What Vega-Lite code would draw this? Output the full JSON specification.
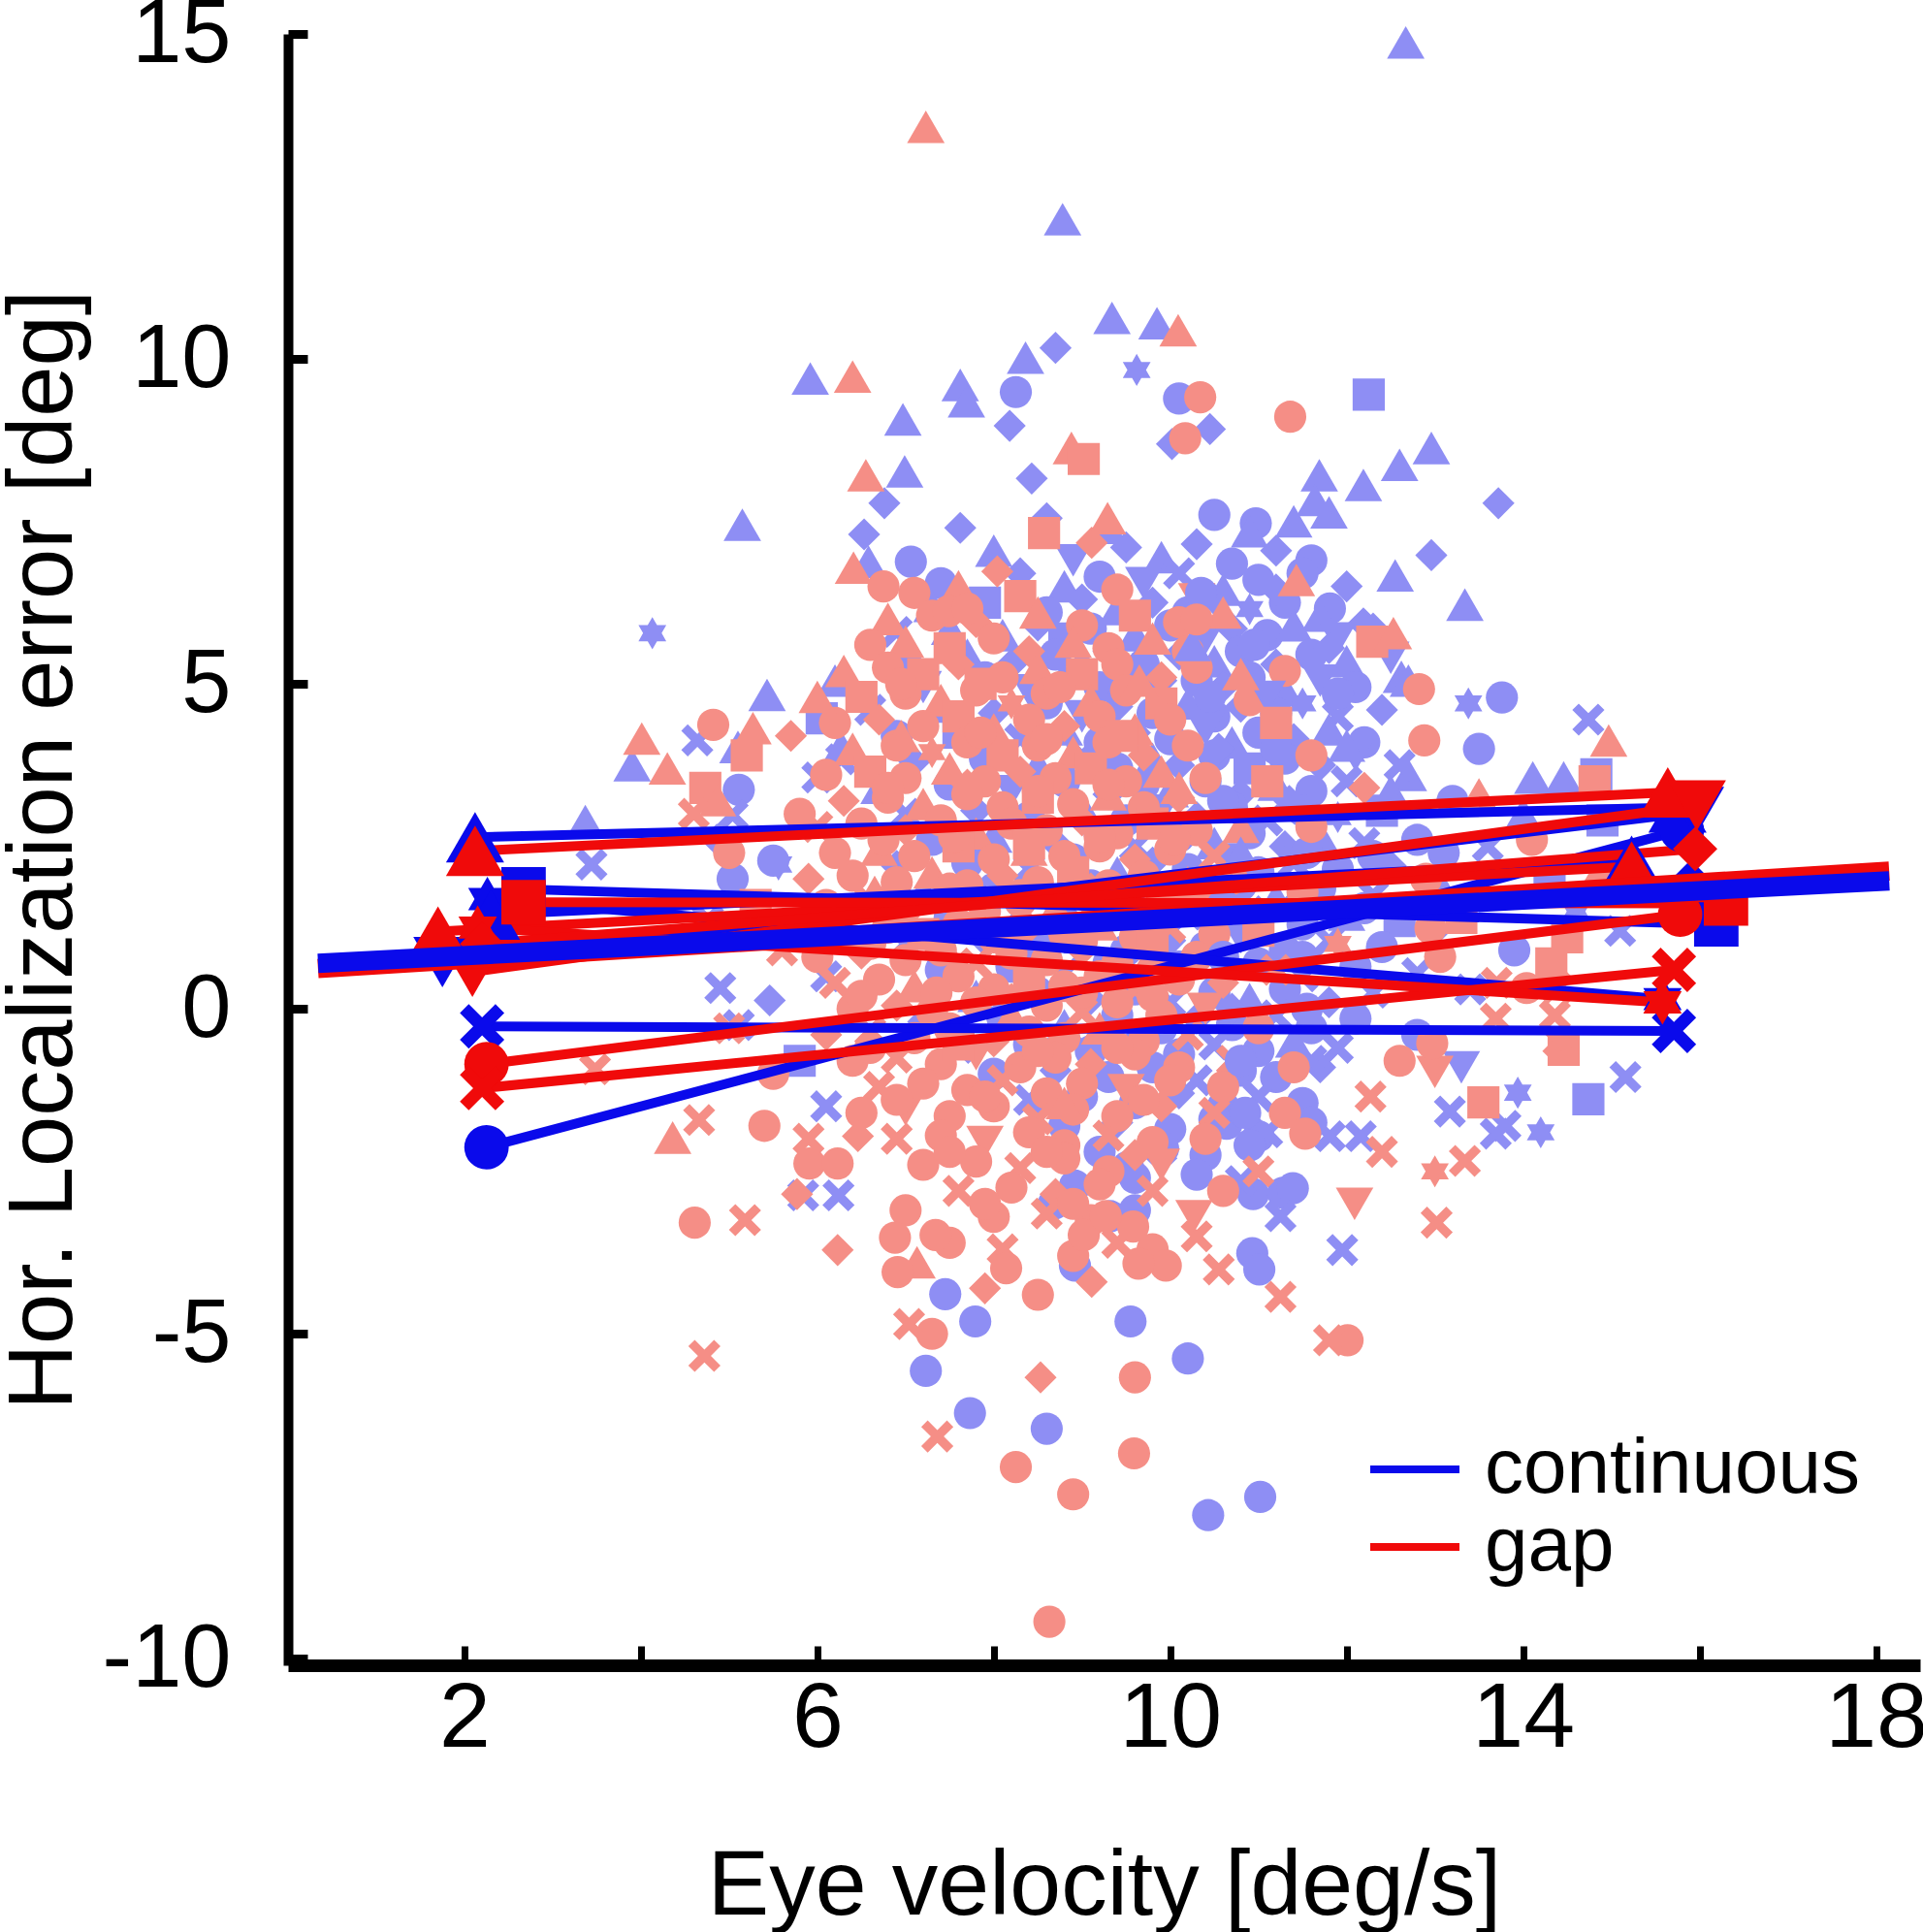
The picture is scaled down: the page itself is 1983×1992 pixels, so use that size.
{
"$schema": "https://vega.github.io/schema/vega-lite/v6.json",
"width": 1683, "height": 1682,
"autosize": {"type": "none"},
"padding": {"left": 297, "top": 35, "right": 3, "bottom": 275},
"background": "white",
"config": {"view": {"stroke": null}, "font": "Liberation Sans"},
"datasets": {
"scatter": [
{"x":12.67,"y":14.87,"c":"b","s":"u"},{"x":8.78,"y":12.15,"c":"b","s":"u"},{"x":9.34,"y":10.63,"c":"b","s":"u"},{"x":9.85,"y":10.55,"c":"b","s":"u"},{"x":8.70,"y":10.17,"c":"b","s":"m"},{"x":8.36,"y":10.02,"c":"b","s":"u"},{"x":5.92,"y":9.70,"c":"b","s":"u"},{"x":7.62,"y":9.60,"c":"b","s":"u"},{"x":7.69,"y":9.35,"c":"b","s":"u"},{"x":8.25,"y":9.49,"c":"b","s":"o"},{"x":6.97,"y":9.07,"c":"b","s":"u"},{"x":8.18,"y":8.97,"c":"b","s":"m"},{"x":10.10,"y":9.39,"c":"b","s":"o"},{"x":9.62,"y":9.83,"c":"b","s":"h"},{"x":12.25,"y":9.45,"c":"b","s":"s"},{"x":10.02,"y":8.69,"c":"b","s":"m"},{"x":10.45,"y":8.92,"c":"b","s":"m"},{"x":12.96,"y":8.63,"c":"b","s":"u"},{"x":12.60,"y":8.37,"c":"b","s":"u"},{"x":12.19,"y":8.06,"c":"b","s":"u"},{"x":11.69,"y":8.21,"c":"b","s":"u"},{"x":6.99,"y":8.27,"c":"b","s":"u"},{"x":8.43,"y":8.16,"c":"b","s":"m"},{"x":5.15,"y":7.45,"c":"b","s":"u"},{"x":13.72,"y":7.78,"c":"b","s":"m"},{"x":11.80,"y":7.64,"c":"b","s":"u"},{"x":11.64,"y":7.83,"c":"b","s":"u"},{"x":10.97,"y":7.47,"c":"b","s":"o"},{"x":7.62,"y":7.40,"c":"b","s":"m"},{"x":6.76,"y":7.78,"c":"b","s":"m"},{"x":6.53,"y":7.30,"c":"b","s":"m"},{"x":6.58,"y":6.88,"c":"b","s":"u"},{"x":7.06,"y":6.88,"c":"b","s":"o"},{"x":12.96,"y":6.98,"c":"b","s":"m"},{"x":12.55,"y":6.67,"c":"b","s":"u"},{"x":13.34,"y":6.22,"c":"b","s":"u"},{"x":11.81,"y":6.16,"c":"b","s":"o"},{"x":12.19,"y":5.93,"c":"b","s":"m"},{"x":13.76,"y":4.79,"c":"b","s":"o"},{"x":12.62,"y":5.11,"c":"b","s":"u"},{"x":5.43,"y":4.83,"c":"b","s":"u"},{"x":4.13,"y":5.78,"c":"b","s":"h"},{"x":13.38,"y":4.70,"c":"b","s":"h"},{"x":14.74,"y":4.45,"c":"b","s":"x"},{"x":14.11,"y":3.56,"c":"b","s":"u"},{"x":14.46,"y":3.56,"c":"b","s":"u"},{"x":14.83,"y":3.61,"c":"b","s":"s"},
{"x":10.43,"y":-7.79,"c":"b","s":"o"},{"x":11.02,"y":-7.51,"c":"b","s":"o"},{"x":8.6,"y":-6.46,"c":"b","s":"o"},{"x":7.73,"y":-6.22,"c":"b","s":"o"},{"x":7.23,"y":-5.57,"c":"b","s":"o"},{"x":10.2,"y":-5.38,"c":"b","s":"o"},{"x":9.55,"y":-4.81,"c":"b","s":"o"},{"x":7.79,"y":-4.81,"c":"b","s":"o"},{"x":7.45,"y":-4.39,"c":"b","s":"o"},{"x":8.92,"y":-3.95,"c":"b","s":"o"},{"x":9.32,"y":-3.19,"c":"b","s":"o"},{"x":8.68,"y":-3.0,"c":"b","s":"o"},{"x":10.93,"y":-3.76,"c":"b","s":"o"},{"x":11.01,"y":-4.01,"c":"b","s":"o"},{"x":10.94,"y":-2.85,"c":"b","s":"o"},{"x":11.0,"y":-1.96,"c":"b","s":"o"},{"x":10.64,"y":-1.77,"c":"b","s":"o"},{"x":11.28,"y":-2.83,"c":"b","s":"o"},{"x":11.39,"y":-2.76,"c":"b","s":"o"},{"x":11.95,"y":-3.71,"c":"b","s":"x"},{"x":11.81,"y":-1.96,"c":"b","s":"x"},{"x":11.25,"y":-3.19,"c":"b","s":"x"},{"x":9.52,"y":-2.43,"c":"b","s":"o"},{"x":9.92,"y":-2.15,"c":"b","s":"o"},{"x":6.24,"y":-2.87,"c":"b","s":"x"},{"x":15.16,"y":-1.05,"c":"b","s":"x"},{"x":14.74,"y":-1.39,"c":"b","s":"s"},{"x":13.69,"y":-1.92,"c":"b","s":"x"},{"x":13.94,"y":-1.29,"c":"b","s":"h"},{"x":13.17,"y":-1.58,"c":"b","s":"x"},{"x":12.16,"y":-1.96,"c":"b","s":"x"},{"x":5.84,"y":-2.87,"c":"b","s":"x"},{"x":8.92,"y":-2.72,"c":"b","s":"o"},{"x":9.6,"y":-3.1,"c":"b","s":"o"},
{"x":13.2,"y":3.2,"c":"b","s":"o"},{"x":13.6,"y":2.5,"c":"b","s":"x"},{"x":14.0,"y":3.0,"c":"b","s":"u"},{"x":14.3,"y":1.9,"c":"b","s":"s"},{"x":13.0,"y":1.2,"c":"b","s":"m"},{"x":13.4,"y":0.3,"c":"b","s":"x"},{"x":13.9,"y":0.9,"c":"b","s":"o"},{"x":14.6,"y":1.5,"c":"b","s":"h"},{"x":12.8,"y":-0.4,"c":"b","s":"o"},{"x":13.3,"y":-0.9,"c":"b","s":"d"},{"x":13.8,"y":-1.8,"c":"b","s":"x"},{"x":14.2,"y":-1.9,"c":"b","s":"h"},{"x":13.1,"y":2.4,"c":"b","s":"o"},{"x":12.7,"y":3.6,"c":"b","s":"u"},{"x":14.9,"y":2.9,"c":"b","s":"s"},{"x":15.1,"y":1.2,"c":"b","s":"x"},{"x":13.5,"y":4.0,"c":"b","s":"o"},
{"x":3.37,"y":2.89,"c":"b","s":"u"},{"x":3.44,"y":2.22,"c":"b","s":"x"},{"x":3.9,"y":3.75,"c":"b","s":"u"},{"x":4.64,"y":4.13,"c":"b","s":"x"},{"x":5.1,"y":4.03,"c":"b","s":"u"},{"x":5.11,"y":3.37,"c":"b","s":"o"},{"x":5.04,"y":2.98,"c":"b","s":"x"},{"x":4.86,"y":2.6,"c":"b","s":"m"},{"x":5.56,"y":2.22,"c":"b","s":"h"},{"x":5.5,"y":2.28,"c":"b","s":"o"},{"x":6.27,"y":3.84,"c":"b","s":"x"},{"x":6.27,"y":4.03,"c":"b","s":"u"},{"x":6.05,"y":4.47,"c":"b","s":"s"},{"x":6.0,"y":3.56,"c":"b","s":"x"},{"x":5.04,"y":2.0,"c":"b","s":"o"},{"x":4.76,"y":1.37,"c":"b","s":"x"},{"x":4.9,"y":0.32,"c":"b","s":"x"},{"x":5.46,"y":0.13,"c":"b","s":"m"},{"x":5.11,"y":-0.25,"c":"b","s":"x"},{"x":5.7,"y":1.2,"c":"b","s":"o"},{"x":6.1,"y":0.5,"c":"b","s":"x"},{"x":5.8,"y":-0.8,"c":"b","s":"s"},{"x":6.1,"y":-1.5,"c":"b","s":"x"},
{"x":8.6,"y":7.55,"c":"b","s":"m"},{"x":9.3,"y":7.4,"c":"b","s":"u"},{"x":10.5,"y":7.6,"c":"b","s":"o"},{"x":10.9,"y":7.35,"c":"b","s":"u"},{"x":11.4,"y":7.5,"c":"b","s":"u"},
{"x":8.0,"y":7.05,"c":"b","s":"u"},{"x":8.9,"y":6.9,"c":"b","s":"d"},{"x":9.5,"y":7.1,"c":"b","s":"m"},{"x":9.9,"y":6.95,"c":"b","s":"u"},{"x":10.3,"y":7.15,"c":"b","s":"m"},{"x":10.7,"y":6.85,"c":"b","s":"o"},{"x":11.2,"y":7.05,"c":"b","s":"m"},{"x":11.6,"y":6.9,"c":"b","s":"o"},
{"x":7.4,"y":6.55,"c":"b","s":"o"},{"x":8.3,"y":6.7,"c":"b","s":"m"},{"x":8.8,"y":6.5,"c":"b","s":"u"},{"x":9.2,"y":6.65,"c":"b","s":"o"},{"x":9.7,"y":6.55,"c":"b","s":"d"},{"x":10.1,"y":6.7,"c":"b","s":"x"},{"x":10.6,"y":6.45,"c":"b","s":"u"},{"x":11.0,"y":6.6,"c":"b","s":"o"},{"x":11.5,"y":6.7,"c":"b","s":"o"},{"x":12.0,"y":6.5,"c":"b","s":"m"},
{"x":7.3,"y":6.2,"c":"b","s":"u"},{"x":7.9,"y":6.25,"c":"b","s":"s"},{"x":8.6,"y":6.1,"c":"b","s":"o"},{"x":9.0,"y":6.3,"c":"b","s":"m"},{"x":9.4,"y":6.15,"c":"b","s":"u"},{"x":9.8,"y":6.25,"c":"b","s":"m"},{"x":10.2,"y":6.1,"c":"b","s":"o"},{"x":10.5,"y":6.3,"c":"b","s":"m"},{"x":10.9,"y":6.15,"c":"b","s":"h"},{"x":11.3,"y":6.25,"c":"b","s":"o"},{"x":11.7,"y":6.05,"c":"b","s":"u"},
{"x":6.9,"y":5.8,"c":"b","s":"x"},{"x":7.5,"y":5.85,"c":"b","s":"u"},{"x":8.1,"y":5.75,"c":"b","s":"u"},{"x":8.5,"y":5.9,"c":"b","s":"m"},{"x":8.8,"y":5.7,"c":"b","s":"s"},{"x":9.1,"y":5.85,"c":"b","s":"o"},{"x":9.6,"y":5.75,"c":"b","s":"u"},{"x":10.0,"y":5.9,"c":"b","s":"o"},{"x":10.4,"y":5.7,"c":"b","s":"d"},{"x":10.7,"y":5.85,"c":"b","s":"m"},{"x":11.1,"y":5.75,"c":"b","s":"o"},{"x":11.4,"y":5.9,"c":"b","s":"u"},{"x":11.9,"y":5.7,"c":"b","s":"d"},{"x":12.3,"y":5.85,"c":"b","s":"m"},
{"x":7.0,"y":5.35,"c":"b","s":"o"},{"x":7.7,"y":5.45,"c":"b","s":"u"},{"x":8.2,"y":5.3,"c":"b","s":"m"},{"x":8.7,"y":5.45,"c":"b","s":"o"},{"x":9.0,"y":5.35,"c":"b","s":"u"},{"x":9.3,"y":5.5,"c":"b","s":"m"},{"x":9.7,"y":5.3,"c":"b","s":"o"},{"x":10.1,"y":5.45,"c":"b","s":"m"},{"x":10.5,"y":5.35,"c":"b","s":"u"},{"x":10.8,"y":5.5,"c":"b","s":"o"},{"x":11.2,"y":5.3,"c":"b","s":"m"},{"x":11.6,"y":5.45,"c":"b","s":"o"},{"x":12.0,"y":5.35,"c":"b","s":"u"},{"x":12.5,"y":5.4,"c":"b","s":"d"},
{"x":6.2,"y":5.05,"c":"b","s":"u"},{"x":7.2,"y":4.95,"c":"b","s":"d"},{"x":7.9,"y":5.1,"c":"b","s":"o"},{"x":8.4,"y":4.9,"c":"b","s":"d"},{"x":8.8,"y":5.05,"c":"b","s":"m"},{"x":9.2,"y":4.95,"c":"b","s":"o"},{"x":9.5,"y":5.1,"c":"b","s":"u"},{"x":9.9,"y":4.9,"c":"b","s":"x"},{"x":10.3,"y":5.05,"c":"b","s":"o"},{"x":10.6,"y":4.95,"c":"b","s":"m"},{"x":10.9,"y":5.1,"c":"b","s":"o"},{"x":11.3,"y":4.9,"c":"b","s":"u"},{"x":11.7,"y":5.05,"c":"b","s":"d"},{"x":12.1,"y":4.95,"c":"b","s":"o"},{"x":12.7,"y":5.05,"c":"b","s":"u"},
{"x":6.6,"y":4.6,"c":"b","s":"x"},{"x":7.4,"y":4.65,"c":"b","s":"u"},{"x":8.0,"y":4.55,"c":"b","s":"m"},{"x":8.6,"y":4.7,"c":"b","s":"o"},{"x":9.0,"y":4.5,"c":"b","s":"d"},{"x":9.4,"y":4.65,"c":"b","s":"m"},{"x":9.8,"y":4.55,"c":"b","s":"o"},{"x":10.2,"y":4.7,"c":"b","s":"u"},{"x":10.5,"y":4.5,"c":"b","s":"o"},{"x":10.8,"y":4.65,"c":"b","s":"m"},{"x":11.2,"y":4.55,"c":"b","s":"o"},{"x":11.5,"y":4.7,"c":"b","s":"h"},{"x":11.9,"y":4.5,"c":"b","s":"x"},{"x":12.4,"y":4.6,"c":"b","s":"m"},
{"x":6.9,"y":4.2,"c":"b","s":"o"},{"x":7.6,"y":4.25,"c":"b","s":"s"},{"x":8.3,"y":4.15,"c":"b","s":"x"},{"x":8.8,"y":4.3,"c":"b","s":"u"},{"x":9.2,"y":4.1,"c":"b","s":"o"},{"x":9.6,"y":4.25,"c":"b","s":"m"},{"x":10.0,"y":4.15,"c":"b","s":"o"},{"x":10.4,"y":4.3,"c":"b","s":"d"},{"x":10.7,"y":4.1,"c":"b","s":"u"},{"x":11.0,"y":4.25,"c":"b","s":"o"},{"x":11.4,"y":4.15,"c":"b","s":"m"},{"x":11.8,"y":4.3,"c":"b","s":"u"},{"x":12.2,"y":4.1,"c":"b","s":"o"},
{"x":7.1,"y":3.8,"c":"b","s":"m"},{"x":7.9,"y":3.85,"c":"b","s":"o"},{"x":8.5,"y":3.75,"c":"b","s":"u"},{"x":9.0,"y":3.9,"c":"b","s":"x"},{"x":9.4,"y":3.7,"c":"b","s":"o"},{"x":9.8,"y":3.85,"c":"b","s":"u"},{"x":10.1,"y":3.75,"c":"b","s":"m"},{"x":10.5,"y":3.9,"c":"b","s":"o"},{"x":10.9,"y":3.7,"c":"b","s":"s"},{"x":11.3,"y":3.85,"c":"b","s":"o"},{"x":11.7,"y":3.75,"c":"b","s":"m"},{"x":12.1,"y":3.9,"c":"b","s":"d"},{"x":12.6,"y":3.75,"c":"b","s":"x"},
{"x":6.7,"y":3.4,"c":"b","s":"u"},{"x":7.5,"y":3.45,"c":"b","s":"o"},{"x":8.2,"y":3.35,"c":"b","s":"d"},{"x":8.8,"y":3.5,"c":"b","s":"o"},{"x":9.3,"y":3.3,"c":"b","s":"m"},{"x":9.7,"y":3.45,"c":"b","s":"o"},{"x":10.0,"y":3.35,"c":"b","s":"u"},{"x":10.4,"y":3.5,"c":"b","s":"o"},{"x":10.8,"y":3.3,"c":"b","s":"m"},{"x":11.2,"y":3.45,"c":"b","s":"u"},{"x":11.6,"y":3.35,"c":"b","s":"o"},{"x":12.0,"y":3.5,"c":"b","s":"x"},{"x":12.5,"y":3.35,"c":"b","s":"u"},
{"x":7.0,"y":3.0,"c":"b","s":"x"},{"x":7.8,"y":3.05,"c":"b","s":"m"},{"x":8.4,"y":2.95,"c":"b","s":"o"},{"x":9.0,"y":3.1,"c":"b","s":"u"},{"x":9.5,"y":2.9,"c":"b","s":"o"},{"x":9.9,"y":3.05,"c":"b","s":"d"},{"x":10.3,"y":2.95,"c":"b","s":"m"},{"x":10.7,"y":3.1,"c":"b","s":"o"},{"x":11.1,"y":2.9,"c":"b","s":"x"},{"x":11.5,"y":3.05,"c":"b","s":"o"},{"x":11.9,"y":2.95,"c":"b","s":"h"},{"x":12.4,"y":3.05,"c":"b","s":"s"},
{"x":7.3,"y":2.6,"c":"b","s":"o"},{"x":8.0,"y":2.65,"c":"b","s":"u"},{"x":8.7,"y":2.55,"c":"b","s":"m"},{"x":9.2,"y":2.7,"c":"b","s":"o"},{"x":9.6,"y":2.5,"c":"b","s":"x"},{"x":10.1,"y":2.65,"c":"b","s":"o"},{"x":10.5,"y":2.55,"c":"b","s":"u"},{"x":10.9,"y":2.7,"c":"b","s":"o"},{"x":11.3,"y":2.5,"c":"b","s":"m"},{"x":11.7,"y":2.65,"c":"b","s":"u"},{"x":12.2,"y":2.55,"c":"b","s":"x"},{"x":12.8,"y":2.6,"c":"b","s":"o"},
{"x":6.9,"y":2.2,"c":"b","s":"m"},{"x":7.7,"y":2.25,"c":"b","s":"o"},{"x":8.4,"y":2.15,"c":"b","s":"x"},{"x":8.9,"y":2.3,"c":"b","s":"o"},{"x":9.4,"y":2.1,"c":"b","s":"u"},{"x":9.8,"y":2.25,"c":"b","s":"m"},{"x":10.2,"y":2.15,"c":"b","s":"o"},{"x":10.6,"y":2.3,"c":"b","s":"d"},{"x":11.0,"y":2.1,"c":"b","s":"o"},{"x":11.4,"y":2.25,"c":"b","s":"x"},{"x":11.9,"y":2.15,"c":"b","s":"o"},{"x":12.5,"y":2.2,"c":"b","s":"m"},
{"x":7.2,"y":1.8,"c":"b","s":"u"},{"x":8.0,"y":1.85,"c":"b","s":"o"},{"x":8.6,"y":1.75,"c":"b","s":"m"},{"x":9.1,"y":1.9,"c":"b","s":"o"},{"x":9.6,"y":1.7,"c":"b","s":"d"},{"x":10.0,"y":1.85,"c":"b","s":"o"},{"x":10.4,"y":1.75,"c":"b","s":"m"},{"x":10.8,"y":1.9,"c":"b","s":"o"},{"x":11.2,"y":1.7,"c":"b","s":"u"},{"x":11.7,"y":1.85,"c":"b","s":"o"},{"x":12.3,"y":1.75,"c":"b","s":"x"},{"x":13.0,"y":1.8,"c":"b","s":"o"},
{"x":7.5,"y":1.4,"c":"b","s":"o"},{"x":8.3,"y":1.45,"c":"b","s":"u"},{"x":8.8,"y":1.35,"c":"b","s":"o"},{"x":9.3,"y":1.5,"c":"b","s":"m"},{"x":9.8,"y":1.3,"c":"b","s":"o"},{"x":10.2,"y":1.45,"c":"b","s":"x"},{"x":10.6,"y":1.35,"c":"b","s":"o"},{"x":11.0,"y":1.5,"c":"b","s":"m"},{"x":11.5,"y":1.3,"c":"b","s":"o"},{"x":12.0,"y":1.45,"c":"b","s":"u"},{"x":12.6,"y":1.35,"c":"b","s":"s"},
{"x":7.0,"y":1.0,"c":"b","s":"x"},{"x":7.9,"y":1.05,"c":"b","s":"m"},{"x":8.5,"y":0.95,"c":"b","s":"o"},{"x":9.0,"y":1.1,"c":"b","s":"u"},{"x":9.5,"y":0.9,"c":"b","s":"o"},{"x":10.0,"y":1.05,"c":"b","s":"m"},{"x":10.4,"y":0.95,"c":"b","s":"o"},{"x":10.8,"y":1.1,"c":"b","s":"d"},{"x":11.3,"y":0.9,"c":"b","s":"o"},{"x":11.8,"y":1.05,"c":"b","s":"x"},{"x":12.4,"y":0.95,"c":"b","s":"o"},
{"x":7.4,"y":0.6,"c":"b","s":"o"},{"x":8.2,"y":0.65,"c":"b","s":"o"},{"x":8.8,"y":0.55,"c":"b","s":"x"},{"x":9.3,"y":0.7,"c":"b","s":"o"},{"x":9.7,"y":0.5,"c":"b","s":"u"},{"x":10.1,"y":0.65,"c":"b","s":"o"},{"x":10.6,"y":0.55,"c":"b","s":"m"},{"x":11.0,"y":0.7,"c":"b","s":"o"},{"x":11.5,"y":0.5,"c":"b","s":"x"},{"x":12.1,"y":0.65,"c":"b","s":"o"},{"x":12.8,"y":0.55,"c":"b","s":"x"},
{"x":7.8,"y":0.2,"c":"b","s":"u"},{"x":8.5,"y":0.25,"c":"b","s":"o"},{"x":9.1,"y":0.15,"c":"b","s":"m"},{"x":9.6,"y":0.3,"c":"b","s":"o"},{"x":10.0,"y":0.1,"c":"b","s":"x"},{"x":10.5,"y":0.25,"c":"b","s":"o"},{"x":10.9,"y":0.15,"c":"b","s":"u"},{"x":11.3,"y":0.3,"c":"b","s":"o"},{"x":11.8,"y":0.1,"c":"b","s":"m"},{"x":12.3,"y":0.25,"c":"b","s":"x"},
{"x":7.2,"y":-0.2,"c":"b","s":"m"},{"x":8.1,"y":-0.15,"c":"b","s":"o"},{"x":8.8,"y":-0.25,"c":"b","s":"u"},{"x":9.4,"y":-0.1,"c":"b","s":"o"},{"x":9.9,"y":-0.3,"c":"b","s":"o"},{"x":10.3,"y":-0.15,"c":"b","s":"m"},{"x":10.7,"y":-0.25,"c":"b","s":"o"},{"x":11.2,"y":-0.1,"c":"b","s":"x"},{"x":11.6,"y":-0.3,"c":"b","s":"o"},{"x":12.1,"y":-0.15,"c":"b","s":"o"},
{"x":7.6,"y":-0.6,"c":"b","s":"x"},{"x":8.4,"y":-0.55,"c":"b","s":"o"},{"x":9.1,"y":-0.65,"c":"b","s":"o"},{"x":9.6,"y":-0.5,"c":"b","s":"m"},{"x":10.1,"y":-0.7,"c":"b","s":"o"},{"x":10.5,"y":-0.55,"c":"b","s":"x"},{"x":11.0,"y":-0.65,"c":"b","s":"o"},{"x":11.4,"y":-0.5,"c":"b","s":"u"},{"x":11.9,"y":-0.6,"c":"b","s":"x"},
{"x":8.0,"y":-1.0,"c":"b","s":"o"},{"x":8.7,"y":-0.95,"c":"b","s":"m"},{"x":9.3,"y":-1.05,"c":"b","s":"o"},{"x":9.8,"y":-0.9,"c":"b","s":"o"},{"x":10.3,"y":-1.1,"c":"b","s":"x"},{"x":10.8,"y":-0.95,"c":"b","s":"o"},{"x":11.2,"y":-1.05,"c":"b","s":"o"},{"x":11.7,"y":-0.9,"c":"b","s":"m"},
{"x":8.4,"y":-1.4,"c":"b","s":"x"},{"x":9.0,"y":-1.35,"c":"b","s":"o"},{"x":9.6,"y":-1.45,"c":"b","s":"o"},{"x":10.1,"y":-1.3,"c":"b","s":"m"},{"x":10.6,"y":-1.5,"c":"b","s":"o"},{"x":11.0,"y":-1.35,"c":"b","s":"x"},{"x":11.5,"y":-1.45,"c":"b","s":"o"},
{"x":8.8,"y":-1.8,"c":"b","s":"o"},{"x":9.4,"y":-1.75,"c":"b","s":"m"},{"x":10.0,"y":-1.85,"c":"b","s":"o"},{"x":10.5,"y":-1.7,"c":"b","s":"o"},{"x":11.1,"y":-1.9,"c":"b","s":"x"},{"x":11.6,"y":-1.75,"c":"b","s":"o"},
{"x":9.2,"y":-2.2,"c":"b","s":"o"},{"x":9.9,"y":-2.15,"c":"b","s":"x"},{"x":10.4,"y":-2.25,"c":"b","s":"o"},{"x":10.9,"y":-2.1,"c":"b","s":"o"},
{"x":9.6,"y":-2.6,"c":"b","s":"o"},{"x":10.3,"y":-2.55,"c":"b","s":"o"},{"x":10.8,"y":-2.65,"c":"b","s":"x"},
{"x":7.1,"y":6.4,"c":"r","s":"o"},{"x":7.6,"y":6.5,"c":"r","s":"u"},{"x":8.3,"y":6.35,"c":"r","s":"s"},{"x":9.4,"y":6.45,"c":"r","s":"o"},{"x":10.3,"y":6.3,"c":"r","s":"d"},
{"x":6.8,"y":6.0,"c":"r","s":"u"},{"x":7.3,"y":6.05,"c":"r","s":"o"},{"x":7.8,"y":5.95,"c":"r","s":"m"},{"x":8.5,"y":6.1,"c":"r","s":"u"},{"x":9.0,"y":5.9,"c":"r","s":"o"},{"x":9.6,"y":6.05,"c":"r","s":"s"},{"x":10.1,"y":5.95,"c":"r","s":"o"},
{"x":6.6,"y":5.6,"c":"r","s":"o"},{"x":7.0,"y":5.65,"c":"r","s":"u"},{"x":7.5,"y":5.55,"c":"r","s":"s"},{"x":8.0,"y":5.7,"c":"r","s":"o"},{"x":8.4,"y":5.5,"c":"r","s":"m"},{"x":8.9,"y":5.65,"c":"r","s":"u"},{"x":9.3,"y":5.55,"c":"r","s":"o"},{"x":9.8,"y":5.7,"c":"r","s":"u"},{"x":10.2,"y":5.5,"c":"r","s":"o"},
{"x":6.3,"y":5.2,"c":"r","s":"u"},{"x":6.8,"y":5.25,"c":"r","s":"o"},{"x":7.2,"y":5.15,"c":"r","s":"s"},{"x":7.6,"y":5.3,"c":"r","s":"m"},{"x":8.1,"y":5.1,"c":"r","s":"o"},{"x":8.5,"y":5.25,"c":"r","s":"u"},{"x":9.0,"y":5.15,"c":"r","s":"s"},{"x":9.4,"y":5.3,"c":"r","s":"o"},{"x":9.9,"y":5.1,"c":"r","s":"m"},{"x":10.3,"y":5.25,"c":"r","s":"o"},{"x":11.3,"y":5.2,"c":"r","s":"o"},
{"x":6.5,"y":4.8,"c":"r","s":"s"},{"x":7.0,"y":4.85,"c":"r","s":"o"},{"x":7.4,"y":4.75,"c":"r","s":"u"},{"x":7.8,"y":4.9,"c":"r","s":"o"},{"x":8.2,"y":4.7,"c":"r","s":"h"},{"x":8.6,"y":4.85,"c":"r","s":"o"},{"x":9.1,"y":4.75,"c":"r","s":"u"},{"x":9.5,"y":4.9,"c":"r","s":"o"},{"x":9.9,"y":4.7,"c":"r","s":"s"},{"x":10.9,"y":4.75,"c":"r","s":"o"},
{"x":6.2,"y":4.4,"c":"r","s":"o"},{"x":6.7,"y":4.45,"c":"r","s":"m"},{"x":7.2,"y":4.35,"c":"r","s":"o"},{"x":7.6,"y":4.5,"c":"r","s":"s"},{"x":8.0,"y":4.3,"c":"r","s":"u"},{"x":8.4,"y":4.45,"c":"r","s":"o"},{"x":8.8,"y":4.35,"c":"r","s":"m"},{"x":9.2,"y":4.5,"c":"r","s":"o"},{"x":9.6,"y":4.3,"c":"r","s":"u"},{"x":10.0,"y":4.45,"c":"r","s":"o"},
{"x":6.4,"y":4.0,"c":"r","s":"u"},{"x":6.9,"y":4.05,"c":"r","s":"o"},{"x":7.3,"y":3.95,"c":"r","s":"h"},{"x":7.7,"y":4.1,"c":"r","s":"o"},{"x":8.1,"y":3.9,"c":"r","s":"s"},{"x":8.5,"y":4.05,"c":"r","s":"o"},{"x":8.9,"y":3.95,"c":"r","s":"u"},{"x":9.3,"y":4.1,"c":"r","s":"o"},{"x":9.7,"y":3.9,"c":"r","s":"m"},{"x":10.2,"y":4.05,"c":"r","s":"o"},
{"x":6.1,"y":3.6,"c":"r","s":"o"},{"x":6.6,"y":3.65,"c":"r","s":"s"},{"x":7.0,"y":3.55,"c":"r","s":"o"},{"x":7.5,"y":3.7,"c":"r","s":"u"},{"x":7.9,"y":3.5,"c":"r","s":"o"},{"x":8.3,"y":3.65,"c":"r","s":"m"},{"x":8.7,"y":3.55,"c":"r","s":"o"},{"x":9.1,"y":3.7,"c":"r","s":"s"},{"x":9.5,"y":3.5,"c":"r","s":"o"},{"x":9.9,"y":3.65,"c":"r","s":"u"},
{"x":6.3,"y":3.2,"c":"r","s":"m"},{"x":6.8,"y":3.25,"c":"r","s":"o"},{"x":7.2,"y":3.15,"c":"r","s":"u"},{"x":7.7,"y":3.3,"c":"r","s":"o"},{"x":8.1,"y":3.1,"c":"r","s":"o"},{"x":8.5,"y":3.25,"c":"r","s":"s"},{"x":8.9,"y":3.15,"c":"r","s":"o"},{"x":9.3,"y":3.3,"c":"r","s":"u"},{"x":9.7,"y":3.1,"c":"r","s":"o"},{"x":10.1,"y":3.25,"c":"r","s":"m"},
{"x":6.0,"y":2.8,"c":"r","s":"x"},{"x":6.5,"y":2.85,"c":"r","s":"o"},{"x":7.0,"y":2.75,"c":"r","s":"m"},{"x":7.4,"y":2.9,"c":"r","s":"o"},{"x":7.8,"y":2.7,"c":"r","s":"u"},{"x":8.2,"y":2.85,"c":"r","s":"o"},{"x":8.6,"y":2.75,"c":"r","s":"o"},{"x":9.0,"y":2.9,"c":"r","s":"m"},{"x":9.4,"y":2.7,"c":"r","s":"o"},{"x":9.8,"y":2.85,"c":"r","s":"s"},{"x":10.3,"y":2.75,"c":"r","s":"o"},{"x":10.8,"y":2.8,"c":"r","s":"u"},
{"x":6.2,"y":2.4,"c":"r","s":"o"},{"x":6.7,"y":2.45,"c":"r","s":"u"},{"x":7.1,"y":2.35,"c":"r","s":"o"},{"x":7.6,"y":2.5,"c":"r","s":"s"},{"x":8.0,"y":2.3,"c":"r","s":"o"},{"x":8.4,"y":2.45,"c":"r","s":"u"},{"x":8.8,"y":2.35,"c":"r","s":"o"},{"x":9.2,"y":2.5,"c":"r","s":"o"},{"x":9.6,"y":2.3,"c":"r","s":"m"},{"x":10.0,"y":2.45,"c":"r","s":"o"},{"x":10.5,"y":2.35,"c":"r","s":"x"},
{"x":5.9,"y":2.0,"c":"r","s":"m"},{"x":6.4,"y":2.05,"c":"r","s":"o"},{"x":6.9,"y":1.95,"c":"r","s":"o"},{"x":7.3,"y":2.1,"c":"r","s":"u"},{"x":7.7,"y":1.9,"c":"r","s":"o"},{"x":8.1,"y":2.05,"c":"r","s":"m"},{"x":8.5,"y":1.95,"c":"r","s":"o"},{"x":8.9,"y":2.1,"c":"r","s":"s"},{"x":9.3,"y":1.9,"c":"r","s":"o"},{"x":9.7,"y":2.05,"c":"r","s":"o"},{"x":10.2,"y":1.95,"c":"r","s":"u"},{"x":10.7,"y":2.0,"c":"r","s":"o"},
{"x":6.1,"y":1.6,"c":"r","s":"o"},{"x":6.6,"y":1.65,"c":"r","s":"x"},{"x":7.0,"y":1.55,"c":"r","s":"o"},{"x":7.5,"y":1.7,"c":"r","s":"m"},{"x":7.9,"y":1.5,"c":"r","s":"o"},{"x":8.3,"y":1.65,"c":"r","s":"o"},{"x":8.7,"y":1.55,"c":"r","s":"u"},{"x":9.1,"y":1.7,"c":"r","s":"o"},{"x":9.5,"y":1.5,"c":"r","s":"m"},{"x":9.9,"y":1.65,"c":"r","s":"o"},{"x":10.4,"y":1.55,"c":"r","s":"o"},
{"x":6.3,"y":1.2,"c":"r","s":"u"},{"x":6.8,"y":1.25,"c":"r","s":"o"},{"x":7.2,"y":1.15,"c":"r","s":"s"},{"x":7.6,"y":1.3,"c":"r","s":"o"},{"x":8.0,"y":1.1,"c":"r","s":"o"},{"x":8.4,"y":1.25,"c":"r","s":"m"},{"x":8.8,"y":1.15,"c":"r","s":"o"},{"x":9.2,"y":1.3,"c":"r","s":"u"},{"x":9.6,"y":1.1,"c":"r","s":"o"},{"x":10.0,"y":1.25,"c":"r","s":"x"},{"x":10.5,"y":1.15,"c":"r","s":"o"},{"x":11.0,"y":1.2,"c":"r","s":"s"},
{"x":6.0,"y":0.8,"c":"r","s":"o"},{"x":6.5,"y":0.85,"c":"r","s":"m"},{"x":7.0,"y":0.75,"c":"r","s":"o"},{"x":7.4,"y":0.9,"c":"r","s":"o"},{"x":7.8,"y":0.7,"c":"r","s":"x"},{"x":8.2,"y":0.85,"c":"r","s":"o"},{"x":8.6,"y":0.75,"c":"r","s":"o"},{"x":9.0,"y":0.9,"c":"r","s":"m"},{"x":9.4,"y":0.7,"c":"r","s":"o"},{"x":9.8,"y":0.85,"c":"r","s":"u"},{"x":10.3,"y":0.8,"c":"r","s":"o"},
{"x":6.2,"y":0.4,"c":"r","s":"x"},{"x":6.7,"y":0.45,"c":"r","s":"o"},{"x":7.1,"y":0.35,"c":"r","s":"u"},{"x":7.6,"y":0.5,"c":"r","s":"o"},{"x":8.0,"y":0.3,"c":"r","s":"o"},{"x":8.4,"y":0.45,"c":"r","s":"s"},{"x":8.8,"y":0.35,"c":"r","s":"o"},{"x":9.2,"y":0.5,"c":"r","s":"o"},{"x":9.6,"y":0.3,"c":"r","s":"x"},{"x":10.1,"y":0.45,"c":"r","s":"o"},{"x":10.6,"y":0.4,"c":"r","s":"m"},
{"x":6.4,"y":0.0,"c":"r","s":"o"},{"x":6.9,"y":0.05,"c":"r","s":"m"},{"x":7.3,"y":-0.05,"c":"r","s":"o"},{"x":7.8,"y":0.1,"c":"r","s":"o"},{"x":8.2,"y":-0.1,"c":"r","s":"u"},{"x":8.6,"y":0.05,"c":"r","s":"o"},{"x":9.0,"y":-0.05,"c":"r","s":"x"},{"x":9.4,"y":0.1,"c":"r","s":"o"},{"x":9.9,"y":-0.1,"c":"r","s":"o"},{"x":10.4,"y":0.0,"c":"r","s":"d"},
{"x":6.1,"y":-0.4,"c":"r","s":"m"},{"x":6.6,"y":-0.35,"c":"r","s":"x"},{"x":7.1,"y":-0.45,"c":"r","s":"o"},{"x":7.5,"y":-0.3,"c":"r","s":"o"},{"x":8.0,"y":-0.5,"c":"r","s":"m"},{"x":8.4,"y":-0.35,"c":"r","s":"o"},{"x":8.8,"y":-0.45,"c":"r","s":"o"},{"x":9.2,"y":-0.3,"c":"r","s":"u"},{"x":9.7,"y":-0.5,"c":"r","s":"o"},{"x":10.2,"y":-0.4,"c":"r","s":"x"},
{"x":6.4,"y":-0.8,"c":"r","s":"o"},{"x":6.9,"y":-0.75,"c":"r","s":"x"},{"x":7.4,"y":-0.85,"c":"r","s":"o"},{"x":7.8,"y":-0.7,"c":"r","s":"d"},{"x":8.3,"y":-0.9,"c":"r","s":"o"},{"x":8.7,"y":-0.75,"c":"r","s":"o"},{"x":9.1,"y":-0.85,"c":"r","s":"m"},{"x":9.6,"y":-0.7,"c":"r","s":"o"},{"x":10.1,"y":-0.9,"c":"r","s":"o"},{"x":10.7,"y":-0.8,"c":"r","s":"x"},
{"x":6.7,"y":-1.2,"c":"r","s":"x"},{"x":7.2,"y":-1.15,"c":"r","s":"o"},{"x":7.7,"y":-1.25,"c":"r","s":"o"},{"x":8.1,"y":-1.1,"c":"r","s":"x"},{"x":8.6,"y":-1.3,"c":"r","s":"o"},{"x":9.0,"y":-1.15,"c":"r","s":"o"},{"x":9.5,"y":-1.25,"c":"r","s":"d"},{"x":10.0,"y":-1.1,"c":"r","s":"o"},{"x":10.6,"y":-1.2,"c":"r","s":"o"},
{"x":6.5,"y":-1.6,"c":"r","s":"o"},{"x":7.0,"y":-1.55,"c":"r","s":"d"},{"x":7.5,"y":-1.65,"c":"r","s":"o"},{"x":8.0,"y":-1.5,"c":"r","s":"o"},{"x":8.5,"y":-1.7,"c":"r","s":"x"},{"x":8.9,"y":-1.55,"c":"r","s":"o"},{"x":9.4,"y":-1.65,"c":"r","s":"o"},{"x":9.9,"y":-1.5,"c":"r","s":"m"},{"x":10.5,"y":-1.6,"c":"r","s":"x"},
{"x":6.9,"y":-2.0,"c":"r","s":"x"},{"x":7.4,"y":-1.95,"c":"r","s":"o"},{"x":7.9,"y":-2.05,"c":"r","s":"d"},{"x":8.4,"y":-1.9,"c":"r","s":"o"},{"x":8.8,"y":-2.1,"c":"r","s":"o"},{"x":9.3,"y":-1.95,"c":"r","s":"x"},{"x":9.8,"y":-2.05,"c":"r","s":"o"},{"x":10.4,"y":-2.0,"c":"r","s":"o"},
{"x":7.2,"y":-2.4,"c":"r","s":"o"},{"x":7.8,"y":-2.35,"c":"r","s":"o"},{"x":8.3,"y":-2.45,"c":"r","s":"x"},{"x":8.8,"y":-2.3,"c":"r","s":"o"},{"x":9.3,"y":-2.5,"c":"r","s":"o"},{"x":9.9,"y":-2.4,"c":"r","s":"d"},
{"x":7.6,"y":-2.8,"c":"r","s":"x"},{"x":8.2,"y":-2.75,"c":"r","s":"o"},{"x":8.7,"y":-2.85,"c":"r","s":"m"},{"x":9.2,"y":-2.7,"c":"r","s":"o"},{"x":9.8,"y":-2.8,"c":"r","s":"x"},
{"x":8.0,"y":-3.2,"c":"r","s":"o"},{"x":8.6,"y":-3.15,"c":"r","s":"x"},{"x":9.1,"y":-3.25,"c":"r","s":"o"},
{"x":6.95,"y":5.0,"c":"r","s":"o"},{"x":7.85,"y":5.0,"c":"r","s":"s"},{"x":8.75,"y":4.95,"c":"r","s":"o"},{"x":9.65,"y":5.05,"c":"r","s":"u"},
{"x":6.95,"y":4.2,"c":"r","s":"u"},{"x":7.85,"y":4.25,"c":"r","s":"o"},{"x":8.6,"y":4.15,"c":"r","s":"o"},{"x":9.45,"y":4.2,"c":"r","s":"s"},
{"x":6.8,"y":3.4,"c":"r","s":"o"},{"x":7.7,"y":3.45,"c":"r","s":"m"},{"x":8.5,"y":3.35,"c":"r","s":"o"},{"x":9.3,"y":3.45,"c":"r","s":"o"},{"x":10.1,"y":3.4,"c":"r","s":"u"},
{"x":6.75,"y":2.6,"c":"r","s":"o"},{"x":7.55,"y":2.65,"c":"r","s":"o"},{"x":8.4,"y":2.55,"c":"r","s":"s"},{"x":9.2,"y":2.65,"c":"r","s":"o"},{"x":10.05,"y":2.6,"c":"r","s":"o"},
{"x":6.65,"y":1.8,"c":"r","s":"u"},{"x":7.5,"y":1.85,"c":"r","s":"o"},{"x":8.3,"y":1.75,"c":"r","s":"o"},{"x":9.1,"y":1.85,"c":"r","s":"m"},{"x":9.95,"y":1.8,"c":"r","s":"o"},
{"x":6.6,"y":1.0,"c":"r","s":"o"},{"x":7.4,"y":1.05,"c":"r","s":"u"},{"x":8.2,"y":0.95,"c":"r","s":"o"},{"x":9.0,"y":1.05,"c":"r","s":"o"},{"x":9.8,"y":1.0,"c":"r","s":"s"},
{"x":6.5,"y":0.2,"c":"r","s":"o"},{"x":7.35,"y":0.25,"c":"r","s":"o"},{"x":8.2,"y":0.15,"c":"r","s":"m"},{"x":9.0,"y":0.25,"c":"r","s":"o"},{"x":9.8,"y":0.2,"c":"r","s":"o"},
{"x":6.6,"y":-0.6,"c":"r","s":"o"},{"x":7.6,"y":-0.55,"c":"r","s":"s"},{"x":8.5,"y":-0.65,"c":"r","s":"o"},{"x":9.4,"y":-0.6,"c":"r","s":"o"},
{"x":6.9,"y":-1.4,"c":"r","s":"o"},{"x":7.9,"y":-1.35,"c":"r","s":"o"},{"x":8.8,"y":-1.45,"c":"r","s":"u"},{"x":9.7,"y":-1.4,"c":"r","s":"o"},
{"x":7.5,"y":-2.2,"c":"r","s":"o"},{"x":8.6,"y":-2.2,"c":"r","s":"o"},{"x":9.6,"y":-2.25,"c":"r","s":"m"},
{"x":7.9,"y":-3.0,"c":"r","s":"o"},{"x":8.9,"y":-3.0,"c":"r","s":"o"},
{"x":10.35,"y":6.4,"c":"b","s":"o"},{"x":11.2,"y":6.45,"c":"b","s":"m"},
{"x":10.25,"y":5.6,"c":"b","s":"u"},{"x":10.95,"y":5.6,"c":"b","s":"o"},{"x":11.8,"y":5.55,"c":"b","s":"m"},
{"x":10.45,"y":4.8,"c":"b","s":"o"},{"x":11.1,"y":4.8,"c":"b","s":"d"},{"x":11.9,"y":4.85,"c":"b","s":"o"},
{"x":10.55,"y":4.0,"c":"b","s":"m"},{"x":11.2,"y":4.0,"c":"b","s":"o"},{"x":12.0,"y":4.05,"c":"b","s":"u"},
{"x":10.6,"y":3.2,"c":"b","s":"o"},{"x":11.35,"y":3.2,"c":"b","s":"m"},
{"x":10.8,"y":2.4,"c":"b","s":"u"},{"x":11.55,"y":2.4,"c":"b","s":"o"},{"x":12.3,"y":2.35,"c":"b","s":"o"},
{"x":10.6,"y":1.6,"c":"b","s":"o"},{"x":11.4,"y":1.6,"c":"b","s":"m"},{"x":12.2,"y":1.55,"c":"b","s":"o"},
{"x":10.6,"y":0.8,"c":"b","s":"o"},{"x":11.5,"y":0.8,"c":"b","s":"o"},
{"x":10.7,"y":0.0,"c":"b","s":"m"},{"x":11.55,"y":0.0,"c":"b","s":"o"},
{"x":10.8,"y":-0.8,"c":"b","s":"o"},{"x":11.6,"y":-0.8,"c":"b","s":"x"},
{"x":10.85,"y":-1.6,"c":"b","s":"o"},
{"x":7.5,"y":-3.6,"c":"r","s":"o"},{"x":8.1,"y":-3.7,"c":"r","s":"x"},{"x":8.9,"y":-3.8,"c":"r","s":"o"},{"x":9.4,"y":-3.6,"c":"r","s":"x"},{"x":7.9,"y":-4.3,"c":"r","s":"m"},{"x":8.5,"y":-4.4,"c":"r","s":"o"},{"x":9.8,"y":-3.7,"c":"r","s":"o"},{"x":10.3,"y":-3.5,"c":"r","s":"x"},{"x":7.0,"y":-3.1,"c":"r","s":"o"},{"x":10.6,"y":-2.8,"c":"r","s":"o"},{"x":11.0,"y":-2.5,"c":"r","s":"x"},{"x":11.3,"y":-1.6,"c":"r","s":"o"},{"x":11.0,"y":-0.3,"c":"r","s":"o"},{"x":11.2,"y":0.6,"c":"r","s":"x"},{"x":11.5,"y":1.8,"c":"r","s":"o"},{"x":11.1,"y":3.5,"c":"r","s":"s"},{"x":11.6,"y":3.9,"c":"r","s":"o"},{"x":10.6,"y":6.1,"c":"r","s":"u"},{"x":10.8,"y":5.15,"c":"r","s":"u"},{"x":10.4,"y":3.55,"c":"r","s":"o"},
{"x":7.23,"y":13.57,"c":"r","s":"u"},{"x":10.09,"y":10.44,"c":"r","s":"u"},{"x":6.40,"y":9.73,"c":"r","s":"u"},{"x":10.34,"y":9.41,"c":"r","s":"o"},{"x":11.36,"y":9.11,"c":"r","s":"o"},{"x":10.17,"y":8.78,"c":"r","s":"o"},{"x":8.88,"y":8.63,"c":"r","s":"u"},{"x":9.02,"y":8.46,"c":"r","s":"s"},{"x":6.55,"y":8.21,"c":"r","s":"u"},{"x":8.57,"y":7.32,"c":"r","s":"s"},{"x":9.11,"y":7.17,"c":"r","s":"m"},{"x":9.29,"y":7.55,"c":"r","s":"u"},{"x":6.41,"y":6.79,"c":"r","s":"u"},{"x":6.75,"y":6.50,"c":"r","s":"o"},{"x":7.49,"y":6.12,"c":"r","s":"o"},{"x":7.70,"y":6.16,"c":"r","s":"o"},{"x":8.04,"y":6.73,"c":"r","s":"m"},{"x":11.43,"y":6.60,"c":"r","s":"u"},{"x":10.30,"y":5.99,"c":"r","s":"o"},{"x":12.29,"y":5.65,"c":"r","s":"s"},{"x":12.53,"y":5.78,"c":"r","s":"u"},{"x":12.82,"y":4.92,"c":"r","s":"o"},{"x":12.88,"y":4.13,"c":"r","s":"o"},{"x":14.97,"y":4.13,"c":"r","s":"u"},{"x":4.82,"y":4.37,"c":"r","s":"o"},{"x":4.01,"y":4.16,"c":"r","s":"u"},{"x":5.27,"y":4.32,"c":"r","s":"u"},{"x":4.73,"y":3.40,"c":"r","s":"s"},{"x":14.81,"y":3.50,"c":"r","s":"s"},{"x":4.87,"y":3.21,"c":"r","s":"u"},
{"x":8.63,"y":-9.43,"c":"r","s":"o"},{"x":8.90,"y":-7.47,"c":"r","s":"o"},{"x":8.25,"y":-7.05,"c":"r","s":"o"},{"x":9.59,"y":-6.84,"c":"r","s":"o"},{"x":9.60,"y":-5.67,"c":"r","s":"o"},{"x":7.36,"y":-6.58,"c":"r","s":"x"},{"x":8.53,"y":-5.67,"c":"r","s":"m"},{"x":7.30,"y":-5.0,"c":"r","s":"o"},{"x":4.72,"y":-5.34,"c":"r","s":"x"},{"x":12.01,"y":-5.10,"c":"r","s":"o"},{"x":11.8,"y":-5.1,"c":"r","s":"x"},{"x":4.61,"y":-3.29,"c":"r","s":"o"},{"x":5.18,"y":-3.25,"c":"r","s":"x"},{"x":6.23,"y":-3.71,"c":"r","s":"m"},{"x":5.77,"y":-2.85,"c":"r","s":"m"},{"x":9.11,"y":-4.20,"c":"r","s":"m"},{"x":9.58,"y":-3.35,"c":"r","s":"o"},{"x":9.95,"y":-3.95,"c":"r","s":"o"},{"x":9.64,"y":-3.92,"c":"r","s":"o"},{"x":10.55,"y":-4.01,"c":"r","s":"x"},{"x":11.25,"y":-4.43,"c":"r","s":"x"},{"x":13.02,"y":-3.29,"c":"r","s":"x"},{"x":7.34,"y":-3.48,"c":"r","s":"o"},{"x":7.13,"y":-3.90,"c":"r","s":"u"},{"x":6.88,"y":-3.52,"c":"r","s":"o"},{"x":6.91,"y":-4.05,"c":"r","s":"o"},{"x":7.04,"y":-4.85,"c":"r","s":"x"},{"x":8.14,"y":-3.99,"c":"r","s":"o"},{"x":9.02,"y":-3.48,"c":"r","s":"o"},{"x":9.27,"y":-3.19,"c":"r","s":"o"},{"x":10.27,"y":-3.19,"c":"r","s":"d"},{"x":4.36,"y":-1.98,"c":"r","s":"u"},{"x":4.66,"y":-1.71,"c":"r","s":"x"},{"x":3.48,"y":-0.93,"c":"r","s":"x"},{"x":5.91,"y":-2.38,"c":"r","s":"o"},{"x":6.23,"y":-2.38,"c":"r","s":"o"},{"x":6.46,"y":-1.96,"c":"r","s":"m"},{"x":11.53,"y":-1.92,"c":"r","s":"o"},{"x":12.27,"y":-1.35,"c":"r","s":"x"},{"x":13.0,"y":-0.97,"c":"r","s":"d"},{"x":12.97,"y":-0.53,"c":"r","s":"o"},{"x":13.06,"y":0.8,"c":"r","s":"o"},{"x":12.95,"y":1.24,"c":"r","s":"o"},{"x":13.34,"y":-2.34,"c":"r","s":"x"},{"x":13.55,"y":-1.44,"c":"r","s":"s"},{"x":13.69,"y":-0.15,"c":"r","s":"x"},{"x":14.04,"y":0.32,"c":"r","s":"o"},{"x":14.39,"y":0.32,"c":"r","s":"x"},{"x":14.46,"y":-0.63,"c":"r","s":"s"},{"x":14.32,"y":0.70,"c":"r","s":"s"},{"x":14.36,"y":-0.1,"c":"r","s":"x"},{"x":12.09,"y":-3.0,"c":"r","s":"d"},
{"x":12.9,"y":2.0,"c":"r","s":"o"},{"x":13.3,"y":1.4,"c":"r","s":"s"},{"x":13.7,"y":0.4,"c":"r","s":"x"},{"x":12.6,"y":-0.8,"c":"r","s":"o"},{"x":13.5,"y":3.3,"c":"r","s":"u"},{"x":14.1,"y":2.6,"c":"r","s":"o"},{"x":12.4,"y":-2.2,"c":"r","s":"x"},{"x":13.0,"y":-2.5,"c":"r","s":"h"},{"x":14.5,"y":1.1,"c":"r","s":"s"},{"x":14.9,"y":2.2,"c":"r","s":"u"},{"x":12.2,"y":3.4,"c":"r","s":"m"},{"x":14.4,"y":-0.5,"c":"r","s":"x"},{"x":11.6,"y":2.8,"c":"r","s":"o"},{"x":11.9,"y":1.0,"c":"r","s":"h"},{"x":11.4,"y":-0.9,"c":"r","s":"o"},{"x":11.2,"y":4.4,"c":"r","s":"s"},
{"x":4.3,"y":3.7,"c":"r","s":"u"},{"x":4.6,"y":3.0,"c":"r","s":"x"},{"x":5.0,"y":2.4,"c":"r","s":"o"},{"x":5.3,"y":1.6,"c":"r","s":"s"},{"x":5.6,"y":0.9,"c":"r","s":"x"},{"x":5.0,"y":-0.3,"c":"r","s":"x"},{"x":5.5,"y":-1.0,"c":"r","s":"o"},{"x":4.8,"y":1.2,"c":"r","s":"x"},{"x":5.8,"y":3.0,"c":"r","s":"o"},{"x":5.2,"y":3.9,"c":"r","s":"s"},{"x":5.9,"y":-2.0,"c":"r","s":"x"},{"x":5.4,"y":-1.8,"c":"r","s":"o"},{"x":6.0,"y":4.8,"c":"r","s":"u"},{"x":5.7,"y":4.2,"c":"r","s":"m"}
],
"lines": [
{"id":"b_o","cond":"continuous","s":"o","x":2.25,"y":-2.13},{"id":"b_o","cond":"continuous","s":"o","x":15.80,"y":2.75},
{"id":"b_u","cond":"continuous","s":"u","x":2.12,"y":2.64},{"id":"b_u","cond":"continuous","s":"u","x":15.75,"y":3.10},
{"id":"b_d","cond":"continuous","s":"d","x":1.75,"y":0.72},{"id":"b_d","cond":"continuous","s":"d","x":15.95,"y":3.03},
{"id":"b_s","cond":"continuous","s":"s","x":2.67,"y":1.84},{"id":"b_s","cond":"continuous","s":"s","x":16.19,"y":1.30},
{"id":"b_m","cond":"continuous","s":"m","x":2.05,"y":0.85},{"id":"b_m","cond":"continuous","s":"m","x":15.90,"y":1.95},
{"id":"b_x","cond":"continuous","s":"x","x":2.20,"y":-0.27},{"id":"b_x","cond":"continuous","s":"x","x":15.71,"y":-0.34},
{"id":"b_h","cond":"continuous","s":"h","x":2.26,"y":1.69},{"id":"b_h","cond":"continuous","s":"h","x":15.58,"y":0.15},
{"id":"b_u2","cond":"continuous","s":"u","x":2.30,"y":1.45},{"id":"b_u2","cond":"continuous","s":"u","x":15.23,"y":2.28},
{"id":"r_o","cond":"gap","s":"o","x":2.25,"y":-0.85},{"id":"r_o","cond":"gap","s":"o","x":15.78,"y":1.45},
{"id":"r_u","cond":"gap","s":"u","x":2.12,"y":2.43},{"id":"r_u","cond":"gap","s":"u","x":15.64,"y":3.33},
{"id":"r_u2","cond":"gap","s":"u","x":1.70,"y":1.19},{"id":"r_u2","cond":"gap","s":"u","x":15.23,"y":2.19},
{"id":"r_d","cond":"gap","s":"d","x":2.09,"y":0.57},{"id":"r_d","cond":"gap","s":"d","x":15.97,"y":3.13},
{"id":"r_s","cond":"gap","s":"s","x":2.67,"y":1.64},{"id":"r_s","cond":"gap","s":"s","x":16.30,"y":1.62},
{"id":"r_x","cond":"gap","s":"x","x":2.20,"y":-1.22},{"id":"r_x","cond":"gap","s":"x","x":15.71,"y":0.60},
{"id":"r_h","cond":"gap","s":"h","x":2.15,"y":1.25},{"id":"r_h","cond":"gap","s":"h","x":15.58,"y":0.10},
{"id":"r_m","cond":"gap","s":"m","x":2.20,"y":1.00},{"id":"r_m","cond":"gap","s":"m","x":15.95,"y":2.46}
],
"fit": [
{"cond":"gap","x":0.34,"y":0.62},{"cond":"gap","x":18.15,"y":2.12},
{"cond":"continuous","x":0.34,"y":0.70},{"cond":"continuous","x":18.15,"y":1.97}
]
},
"encoding": {
"x": {"field":"x","type":"quantitative",
  "scale":{"domain":[0,18.5],"nice":false,"zero":false},
  "axis":{"values":[2,4,6,8,10,12,14,16,18],"labelExpr":"(datum.value-2)%4===0 ? datum.label : ''",
    "title":"Eye velocity [deg/s]","grid":false,"domainColor":"black","domainWidth":13,
    "tickColor":"black","tickWidth":7,"tickSize":-20,"labelFontSize":95,"labelPadding":28,
    "labelColor":"black","labelFont":"Liberation Sans","labelFlush":false,"labelOverlap":false,
    "titleFontSize":95,"titleFontWeight":"normal","titleColor":"black","titleFont":"Liberation Sans","titlePadding":79}},
"y": {"field":"y","type":"quantitative",
  "scale":{"domain":[-10.1,15],"nice":false,"zero":false},
  "axis":{"values":[-10,-5,0,5,10,15],"labelExpr":"replace(datum.label, '−', '-')",
    "title":"Hor. Localization error [deg]","grid":false,"domainColor":"black","domainWidth":10,
    "tickColor":"black","tickWidth":9,"tickSize":-20,"labelFontSize":92,"labelPadding":79,
    "labelColor":"black","labelFont":"Liberation Sans","labelFlush":false,"labelOverlap":false,
    "titleFontSize":94,"titleFontWeight":"normal","titleColor":"black","titleFont":"Liberation Sans","titlePadding":12}}
},
"layer": [
{"data":{"name":"scatter"},
 "mark":{"type":"point","filled":true,"opacity":1,"strokeWidth":0},
 "encoding":{
  "fill":{"field":"c","type":"nominal","scale":{"domain":["b","r"],"range":["#8E8EF4","#F58E86"]},"legend":null},
  "shape":{"field":"s","type":"nominal","scale":{"domain":["o","u","d","s","m","x","h"],"range":["circle","triangle-up","triangle-down","square","diamond","M-1,-0.6L-0.6,-1L0,-0.4L0.6,-1L1,-0.6L0.4,0L1,0.6L0.6,1L0,0.4L-0.6,1L-1,0.6L-0.4,0Z","M0,-1L0.2887,-0.5L0.866,-0.5L0.5774,0L0.866,0.5L0.2887,0.5L0,1L-0.2887,0.5L-0.866,0.5L-0.5774,0L-0.866,-0.5L-0.2887,-0.5Z"]},"legend":null},
  "size":{"condition":{"test":"datum.s==='u'||datum.s==='d'","value":1500},"value":1100}
 }},
{"data":{"name":"lines"},
 "transform":[{"filter":"datum.cond==='continuous'"}],
 "mark":{"type":"line","strokeWidth":10},
 "encoding":{"detail":{"field":"id"},
  "color":{"field":"cond","type":"nominal","scale":{"domain":["continuous","gap"],"range":["#0A0AEB","#F00A0A"]},
   "legend":{"orient":"none","legendX":1112,"legendY":1441,"title":null,"symbolType":"stroke","symbolStrokeWidth":8,"symbolSize":8464,
    "labelFontSize":80,"labelFont":"Liberation Sans","labelColor":"black","labelOffset":22,"labelLimit":0,"rowPadding":0,"clipHeight":78,"padding":0}}}},
{"data":{"name":"lines"},
 "transform":[{"filter":"datum.cond==='gap'"}],
 "mark":{"type":"line","strokeWidth":10},
 "encoding":{"detail":{"field":"id"},"color":{"field":"cond","type":"nominal"}}},
{"data":{"name":"lines"},
 "mark":{"type":"point","filled":true,"opacity":1,"strokeWidth":0},
 "encoding":{
  "color":{"field":"cond","type":"nominal"},
  "shape":{"field":"s","type":"nominal","legend":null},
  "size":{"condition":{"test":"datum.s==='u'||datum.s==='d'","value":3600},"value":2100}
 }},
{"data":{"name":"fit"},
 "transform":[{"filter":"datum.cond==='gap'"}],
 "mark":{"type":"line","strokeWidth":20},
 "encoding":{"color":{"field":"cond","type":"nominal"}}},
{"data":{"name":"fit"},
 "transform":[{"filter":"datum.cond==='continuous'"}],
 "mark":{"type":"line","strokeWidth":20},
 "encoding":{"color":{"field":"cond","type":"nominal"}}}
]
}
